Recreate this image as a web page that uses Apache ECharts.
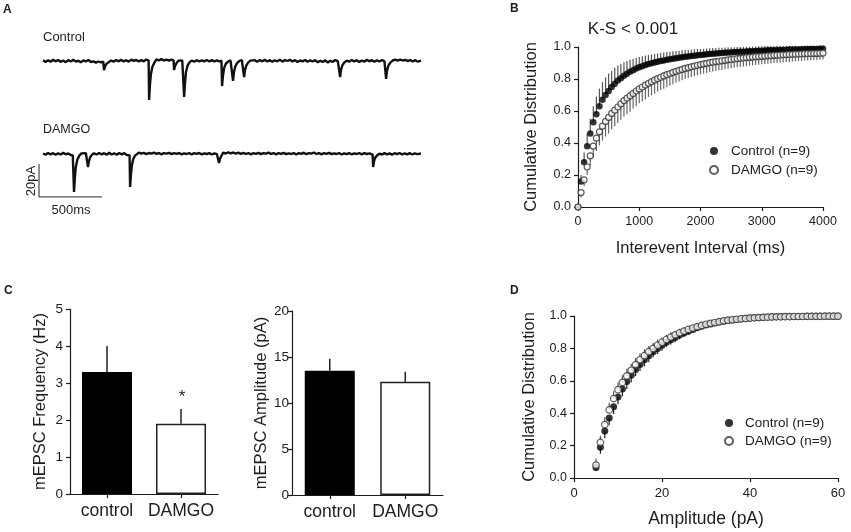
<!DOCTYPE html>
<html>
<head>
<meta charset="utf-8">
<script src="https://cdn.jsdelivr.net/npm/echarts@6/dist/echarts.min.js"></script>
<style>
  html, body { margin: 0; padding: 0; background: #fff; }
  #main { width: 851px; height: 532px; }
</style>
</head>
<body>
<div id="main"></div>
<script>
// ---- panel A: example traces, [ms, pA] ----
var controlTrace = [[0,0.4],[20,-0.6],[40,0.5],[60,-0.4],[80,0.7],[100,-0.2],[120,0.6],[140,-0.5],[160,0.3],[180,-0.7],[200,0.5],[220,-0.3],[240,0.8],[260,-0.4],[280,0.2],[300,-0.8],[320,0.4],[340,-0.3],[360,0.6],[380,-0.6],[400,-0.2],[420,-1.0],[440,-0.3],[460,-0.9],[478,-0.4],
  [484,-5.5],[492,-3.2],[505,-1.6],[520,-0.6],[540,0.3],[560,-0.4],[580,0.6],[600,-0.2],[620,0.7],[640,-0.3],[660,0.5],[680,-0.4],[700,0.8],[720,0.1],[740,0.6],[760,-0.3],[780,0.5],[800,-0.2],[820,0.9],[838,0.3],
  [842,-23.6],[848,-15],[856,-8],[868,-3.5],[884,-1],[900,1.0],[920,0.4],[940,1.1],[960,0.3],[980,0.8],[1000,0.2],[1020,0.9],[1036,0.4],
  [1040,-5.5],[1048,-3],[1060,-1.2],[1075,0.2],[1090,0.8],[1105,0.3],[1116,0.6],
  [1120,-21.8],[1126,-14],[1134,-7],[1146,-3],[1162,-0.8],[1180,0.3],[1200,-0.4],[1220,0.5],[1240,-0.3],[1260,0.4],[1280,-0.2],[1300,0.6],[1320,-0.3],[1340,0.5],[1360,-0.2],[1380,0.4],[1400,-0.3],[1416,0.3],
  [1421,-15.2],[1428,-9],[1438,-4],[1452,-1.5],[1470,-0.3],[1488,0.4],[1502,0.2],
  [1508,-12.1],[1515,-7],[1525,-3.5],[1540,-1.2],[1560,0.1],[1578,0.5],[1592,0.2],
  [1596,-9.7],[1603,-5.5],[1613,-2.8],[1628,-1],[1645,0.2],[1660,-0.3],[1680,0.5],[1700,-0.4],[1720,0.6],[1740,-0.2],[1760,0.7],[1780,-0.3],[1800,0.5],[1820,-0.5],[1840,0.4],[1860,-0.2],[1880,0.8],[1900,-0.4],[1920,0.6],[1940,0.0],[1960,0.7],[1980,-0.3],[2000,0.5],[2020,-0.6],[2040,0.3],[2060,-0.2],[2080,0.6],[2100,-0.5],[2120,0.4],[2140,-0.3],[2160,0.5],[2180,-0.8],[2200,0.2],[2220,-0.6],[2240,0.4],[2260,-0.9],[2280,0.1],[2300,-0.5],[2320,0.6],[2340,-0.2],[2354,0.3],
  [2358,-9.7],[2365,-5.5],[2375,-2.8],[2390,-1],[2410,0.2],[2430,-0.4],[2450,0.6],[2470,-0.3],[2490,0.5],[2510,-0.6],[2530,0.3],[2550,-0.4],[2570,0.7],[2590,-0.2],[2610,0.5],[2630,-0.5],[2650,0.4],[2670,-0.3],[2690,0.6],[2710,-0.2],[2719,0.4],
  [2723,-10.9],[2730,-6],[2740,-3],[2755,-1.2],[2775,0.3],[2795,0.8],[2815,0.2],[2835,0.9],[2855,0.3],[2875,0.7],[2895,-0.1],[2915,0.6],[2935,-0.3],[2955,0.5],[2975,-0.4],[3000,0.2]];

var damgoTrace = [[0,0.3],[20,-0.4],[40,0.6],[60,-0.2],[80,0.5],[100,-0.5],[120,0.4],[140,-0.3],[160,0.7],[180,-0.2],[200,0.3],[220,-0.6],[236,-0.8],[242,-0.5],
  [246,-23],[252,-15],[260,-8],[272,-3.5],[288,-1],[305,0.4],[320,-0.3],[340,0.5],[353,0.1],
  [357,-7.9],[364,-4.5],[374,-2],[388,-0.5],[405,0.4],[425,-0.3],[445,0.6],[465,-0.2],[485,0.5],[505,-0.4],[525,0.7],[545,-0.3],[565,0.4],[585,-0.5],[605,0.6],[625,-0.2],[645,0.5],[665,-0.6],[680,-1.2],[687,-0.8],
  [691,-20],[697,-13],[705,-7],[716,-3],[730,-1],[745,0.2],[760,0.8],[780,0.3],[800,0.7],[820,-0.1],[840,0.6],[860,0.2],[880,0.8],[900,0.1],[920,0.6],[940,-0.2],[960,0.5],[980,0.2],[1000,0.7],[1020,-0.1],[1040,0.5],[1060,0.1],[1080,0.6],[1100,-0.2],[1120,0.4],[1140,0.0],[1160,0.6],[1180,-0.3],[1200,0.5],[1220,0.1],[1240,0.6],[1260,-0.2],[1280,0.4],[1300,0.0],[1320,0.5],[1340,-0.3],[1360,0.4],[1380,-0.1],[1393,0.2],
  [1397,-5.5],[1404,-3],[1415,-1.2],[1430,0.8],[1450,0.3],[1470,1.0],[1490,0.4],[1510,0.9],[1530,0.2],[1550,0.8],[1570,0.1],[1590,0.7],[1610,0.0],[1630,0.6],[1650,-0.2],[1670,0.5],[1690,0.1],[1710,0.7],[1730,-0.1],[1750,0.5],[1770,0.2],[1790,0.8],[1810,0.0],[1830,0.6],[1850,-0.2],[1870,0.5],[1890,0.1],[1910,0.7],[1930,-0.1],[1950,0.4],[1970,0.0],[1990,0.6],[2010,-0.3],[2030,0.5],[2050,0.1],[2070,0.8],[2090,-0.1],[2110,0.5],[2130,0.2],[2150,0.9],[2170,0.0],[2190,0.6],[2210,-0.2],[2230,0.5],[2250,0.1],[2270,0.7],[2290,-0.1],[2310,0.4],[2330,0.0],[2350,0.6],[2370,-0.3],[2390,0.4],[2410,-0.1],[2430,0.5],[2450,-0.2],[2470,0.4],[2490,0.0],[2510,0.6],[2530,-0.2],[2550,0.5],[2570,0.0],[2590,0.4],[2605,-0.6],[2616,-0.4],
  [2620,-7.9],[2627,-4.5],[2637,-2.2],[2652,-0.8],[2670,0.2],[2690,-0.3],[2710,0.5],[2730,-0.2],[2750,0.4],[2770,-0.4],[2790,0.5],[2810,-0.1],[2830,0.6],[2850,-0.3],[2870,0.4],[2890,-0.2],[2910,0.5],[2930,-0.3],[2950,0.4],[2970,-0.1],[3000,0.3]];

// scale bar: 20 pA by 500 ms
var scaleBar = [[-32,-6],[-32,-26],[468,-26]];

// ---- panel B: cumulative interevent interval ----
var intervalMs = [0,50,100,150,200,250,300,350,400,450,500,550,600,650,700,750,800,850,900,950,
  1000,1050,1100,1150,1200,1250,1300,1350,1400,1450,1500,1550,1600,1650,1700,1750,1800,1850,1900,1950,
  2000,2050,2100,2150,2200,2250,2300,2350,2400,2450,2500,2550,2600,2650,2700,2750,2800,2850,2900,2950,
  3000,3050,3100,3150,3200,3250,3300,3350,3400,3450,3500,3550,3600,3650,3700,3750,3800,3850,3900,3950,4000];
var ctrlIei = [0,0.16,0.28,0.38,0.46,0.53,0.58,0.63,0.67,0.70,0.725,0.75,0.77,0.79,0.805,0.82,0.833,0.845,0.855,0.865,
  0.873,0.88,0.887,0.893,0.898,0.903,0.908,0.912,0.916,0.92,0.924,0.927,0.93,0.933,0.936,0.939,0.941,0.944,0.946,0.948,
  0.95,0.952,0.954,0.956,0.958,0.959,0.961,0.962,0.964,0.965,0.966,0.968,0.969,0.97,0.971,0.972,0.973,0.974,0.975,0.976,
  0.977,0.978,0.979,0.98,0.98,0.981,0.982,0.982,0.983,0.984,0.984,0.985,0.985,0.986,0.986,0.987,0.987,0.988,0.988,0.989,0.989];
var ctrlIeiErr = [0,0.04,0.06,0.08,0.09,0.10,0.11,0.11,0.11,0.11,0.11,0.10,0.10,0.095,0.09,0.085,0.08,0.075,0.07,0.067,
  0.064,0.062,0.06,0.058,0.056,0.054,0.052,0.05,0.049,0.048,0.047,0.046,0.045,0.044,0.043,0.042,0.041,0.04,0.04,0.039,
  0.038,0.037,0.036,0.036,0.035,0.034,0.034,0.033,0.033,0.032,0.032,0.031,0.031,0.03,0.03,0.03,0.029,0.029,0.028,0.028,
  0.028,0.027,0.027,0.026,0.026,0.025,0.025,0.025,0.024,0.024,0.023,0.023,0.022,0.022,0.022,0.021,0.021,0.02,0.02,0.02,0.02];
var damgoIei = [0,0.09,0.17,0.25,0.32,0.38,0.43,0.47,0.505,0.535,0.56,0.585,0.605,0.625,0.645,0.665,0.68,0.695,0.71,0.725,
  0.738,0.75,0.762,0.773,0.783,0.793,0.802,0.811,0.819,0.827,0.834,0.841,0.848,0.854,0.86,0.866,0.871,0.876,0.881,0.886,
  0.89,0.894,0.898,0.902,0.905,0.908,0.911,0.914,0.917,0.92,0.922,0.925,0.927,0.929,0.931,0.933,0.935,0.937,0.939,0.94,
  0.942,0.943,0.945,0.946,0.948,0.949,0.95,0.951,0.952,0.953,0.954,0.955,0.956,0.957,0.958,0.958,0.959,0.96,0.96,0.961,0.962];
var damgoIeiErr = [0,0.03,0.04,0.05,0.06,0.07,0.08,0.085,0.09,0.095,0.10,0.10,0.10,0.10,0.10,0.10,0.10,0.10,0.095,0.095,
  0.09,0.09,0.09,0.085,0.085,0.085,0.08,0.08,0.08,0.078,0.076,0.074,0.072,0.07,0.068,0.066,0.065,0.064,0.063,0.062,
  0.061,0.06,0.06,0.059,0.058,0.058,0.057,0.057,0.056,0.056,0.055,0.055,0.054,0.054,0.053,0.053,0.052,0.052,0.051,0.051,
  0.05,0.05,0.049,0.049,0.048,0.048,0.047,0.047,0.046,0.046,0.045,0.045,0.044,0.044,0.043,0.043,0.042,0.042,0.041,0.041,0.04];

// ---- panel C: means and SEM ----
var groups = ['control', 'DAMGO'];
var freqMean = [3.3, 1.9];
var freqSem = [0.7, 0.4];
var ampMean = [13.5, 12.3];
var ampSem = [1.3, 1.1];

// ---- panel D: cumulative amplitude ----
var amplitudePa = [5,6,7,8,9,10,11,12,13,14,15,16,17,18,19,20,21,22,23,24,25,26,27,28,29,30,31,32,33,34,35,36,37,38,39,40,
  41,42,43,44,45,46,47,48,49,50,51,52,53,54,55,56,57,58,59,60];
var ctrlAmp = [0.065,0.19,0.29,0.37,0.44,0.50,0.55,0.595,0.635,0.67,0.70,0.73,0.755,0.78,0.80,0.82,0.838,0.854,0.868,0.882,
  0.895,0.906,0.917,0.927,0.936,0.944,0.951,0.957,0.963,0.968,0.972,0.976,0.979,0.982,0.985,0.987,0.989,0.99,0.992,0.993,
  0.994,0.995,0.995,0.996,0.996,0.997,0.997,0.997,0.998,0.998,0.998,0.998,0.999,0.999,0.999,0.999];
var ctrlAmpErr = [0.02,0.04,0.045,0.045,0.045,0.045,0.045,0.045,0.045,0.04,0.04,0.04,0.04,0.035,0.035,0.035,0.03,0.03,0.03,0.025,
  0.025,0.022,0.02,0.02,0.018,0.016,0.015,0.014,0.013,0.012,0.011,0.01,0.01,0.009,0.008,0.008,0.007,0.007,0.006,0.006,
  0.005,0.005,0.005,0.004,0.004,0.004,0.004,0.003,0.003,0.003,0.003,0.003,0.002,0.002,0.002,0.002];
var damgoAmp = [0.08,0.22,0.33,0.42,0.49,0.545,0.59,0.63,0.665,0.70,0.73,0.755,0.78,0.80,0.82,0.838,0.855,0.87,0.884,0.896,
  0.907,0.917,0.926,0.934,0.942,0.949,0.955,0.96,0.965,0.97,0.974,0.977,0.98,0.983,0.985,0.987,0.989,0.99,0.992,0.993,
  0.994,0.995,0.995,0.996,0.996,0.997,0.997,0.997,0.998,0.998,0.998,0.998,0.999,0.999,0.999,0.999];
var damgoAmpErr = [0.04,0.04,0.045,0.045,0.045,0.045,0.045,0.045,0.04,0.04,0.04,0.04,0.035,0.035,0.035,0.03,0.03,0.03,0.025,0.025,
  0.022,0.02,0.02,0.018,0.016,0.015,0.014,0.013,0.012,0.011,0.01,0.01,0.009,0.008,0.008,0.007,0.007,0.006,0.006,0.005,
  0.005,0.005,0.004,0.004,0.004,0.004,0.003,0.003,0.003,0.003,0.003,0.002,0.002,0.002,0.002,0.002];

var FONT = 'Liberation Sans, Arial, sans-serif';
var INK = '#1c1c24';

var chart = echarts.init(document.getElementById('main'));

function pairs(xs, ys) {
  return ys.map(function (v, i) { return [xs[i], v]; });
}
function errData(xs, ys, errs, sign) {
  return ys.map(function (v, i) { return [xs[i], v, sign * errs[i]]; });
}
// vertical error bar, one-sided, no cap
function errorBars(xi, yi, data, color, width, z) {
  return {
    type: 'custom', xAxisIndex: xi, yAxisIndex: yi, z: z || 1, clip: false,
    renderItem: function (params, api) {
      var p0 = api.coord([api.value(0), api.value(1)]);
      var p1 = api.coord([api.value(0), api.value(1) + api.value(2)]);
      return { type: 'line', shape: { x1: p0[0], y1: p0[1], x2: p1[0], y2: p1[1] },
        style: { stroke: color, lineWidth: width } };
    },
    data: data
  };
}
function axisBase(extra) {
  var a = {
    axisLine: { show: true, lineStyle: { color: INK, width: 1.2 } },
    axisTick: { show: true, length: 4, lineStyle: { color: INK, width: 1.2 } },
    axisLabel: { color: INK, fontSize: 12.5, fontFamily: FONT, margin: 7 },
    splitLine: { show: false },
    nameLocation: 'middle',
    nameTextStyle: { color: INK, fontSize: 16.5, fontFamily: FONT }
  };
  for (var k in extra) a[k] = extra[k];
  return a;
}
function text(x, y, str, size, opts) {
  opts = opts || {};
  return {
    type: 'text', x: x, y: y, rotation: opts.rotation || 0,
    style: { text: str, fill: INK, fontSize: size, fontFamily: FONT,
      fontWeight: opts.bold ? 'bold' : 'normal',
      align: opts.align || 'left', verticalAlign: 'middle' }
  };
}
function plain(v) { return String(v); }
function oneDecimal(v) { return v.toFixed(1); }

chart.setOption({
  backgroundColor: '#fff',
  animation: false,
  grid: [
    { left: 38, top: 52.75, width: 383, height: 57.75 },   // A control
    { left: 38, top: 145.75, width: 383, height: 57.75 },  // A DAMGO
    { left: 578, top: 47, width: 245, height: 160 },       // B
    { left: 70, top: 309, width: 148, height: 185 },       // C left
    { left: 292, top: 311, width: 151, height: 184 },      // C right
    { left: 574, top: 316, width: 264, height: 162 }       // D
  ],
  xAxis: [
    { gridIndex: 0, type: 'value', min: -40, max: 3000, show: false },
    { gridIndex: 1, type: 'value', min: -40, max: 3000, show: false },
    axisBase({ gridIndex: 2, type: 'value', min: 0, max: 4000, interval: 1000,
      name: 'Interevent Interval (ms)', nameGap: 33,
      axisLabel: { color: INK, fontSize: 12.5, fontFamily: FONT, margin: 8, formatter: plain } }),
    axisBase({ gridIndex: 3, type: 'category', data: groups,
      axisTick: { show: true, alignWithLabel: true, length: 4, lineStyle: { color: INK, width: 1.2 } },
      axisLabel: { color: INK, fontSize: 17.5, fontFamily: FONT, margin: 8, interval: 0 } }),
    axisBase({ gridIndex: 4, type: 'category', data: groups,
      axisTick: { show: true, alignWithLabel: true, length: 4, lineStyle: { color: INK, width: 1.2 } },
      axisLabel: { color: INK, fontSize: 17.5, fontFamily: FONT, margin: 8, interval: 0 } }),
    axisBase({ gridIndex: 5, type: 'value', min: 0, max: 60, interval: 20,
      name: 'Amplitude (pA)', nameGap: 32,
      axisLabel: { color: INK, fontSize: 13, fontFamily: FONT, margin: 9, formatter: plain },
      nameTextStyle: { color: INK, fontSize: 17.5, fontFamily: FONT } })
  ],
  yAxis: [
    { gridIndex: 0, type: 'value', min: -30, max: 5, show: false },
    { gridIndex: 1, type: 'value', min: -30, max: 5, show: false },
    axisBase({ gridIndex: 2, type: 'value', min: 0, max: 1, interval: 0.2,
      name: 'Cumulative Distribution', nameGap: 38,
      axisLabel: { color: INK, fontSize: 12.5, fontFamily: FONT, margin: 7, formatter: oneDecimal } }),
    axisBase({ gridIndex: 3, type: 'value', min: 0, max: 5, interval: 1,
      name: 'mEPSC Frequency (Hz)', nameGap: 21,
      axisLabel: { color: INK, fontSize: 13.5, fontFamily: FONT, margin: 7 } }),
    axisBase({ gridIndex: 4, type: 'value', min: 0, max: 20, interval: 5,
      name: 'mEPSC Amplitude (pA)', nameGap: 19,
      axisLabel: { color: INK, fontSize: 13.5, fontFamily: FONT, margin: 3 } }),
    axisBase({ gridIndex: 5, type: 'value', min: 0, max: 1, interval: 0.2,
      name: 'Cumulative Distribution', nameGap: 36,
      axisLabel: { color: INK, fontSize: 12.5, fontFamily: FONT, margin: 7, formatter: oneDecimal } })
  ],
  legend: [
    { left: 704, top: 139, orient: 'vertical', itemWidth: 8, itemHeight: 8, itemGap: 5,
      textStyle: { color: INK, fontSize: 13.5, fontFamily: FONT, padding: [0, 0, 0, 8] },
      data: [{ name: 'Control (n=9)', icon: 'circle' }, { name: 'DAMGO (n=9)', icon: 'circle' }] },
    { left: 719, top: 411, orient: 'vertical', itemWidth: 8, itemHeight: 8, itemGap: 4,
      textStyle: { color: INK, fontSize: 13.5, fontFamily: FONT, padding: [0, 0, 0, 7] },
      data: [{ name: 'Control (n=9)', icon: 'circle' }, { name: 'DAMGO (n=9)', icon: 'circle' }] }
  ],
  graphic: [
    text(3, 10, 'A', 12, { bold: true }),
    text(510, 9, 'B', 12, { bold: true }),
    text(4, 291, 'C', 12, { bold: true }),
    text(510, 291, 'D', 12, { bold: true }),
    text(43, 37, 'Control', 13),
    text(43, 130, 'DAMGO', 12.5),
    text(71, 210, '500ms', 13, { align: 'center' }),
    text(31, 181, '20pA', 13, { align: 'center', rotation: Math.PI / 2 }),
    text(633, 29, 'K-S < 0.001', 17, { align: 'center' }),
    text(182, 397, '*', 17, { align: 'center' })
  ],
  series: [
    // A
    { type: 'line', xAxisIndex: 0, yAxisIndex: 0, data: controlTrace, showSymbol: false,
      lineStyle: { color: '#111', width: 2.4 } },
    { type: 'line', xAxisIndex: 1, yAxisIndex: 1, data: damgoTrace, showSymbol: false,
      lineStyle: { color: '#111', width: 2.4 } },
    { type: 'line', xAxisIndex: 1, yAxisIndex: 1, data: scaleBar, showSymbol: false, clip: false,
      lineStyle: { color: '#555', width: 1.3 } },
    // B
    errorBars(2, 2, errData(intervalMs, ctrlIei, ctrlIeiErr, 1), '#555', 1.2, 1),
    errorBars(2, 2, errData(intervalMs, damgoIei, damgoIeiErr, -1), '#666', 1.2, 1),
    { name: 'Control (n=9)', type: 'scatter', xAxisIndex: 2, yAxisIndex: 2, z: 3, clip: false,
      symbol: 'circle', symbolSize: 6.5, itemStyle: { color: '#000' },
      data: pairs(intervalMs, ctrlIei) },
    { name: 'DAMGO (n=9)', type: 'scatter', xAxisIndex: 2, yAxisIndex: 2, z: 4, clip: false,
      symbol: 'circle', symbolSize: 6, itemStyle: { color: '#fff', borderColor: '#333', borderWidth: 1.2 },
      data: pairs(intervalMs, damgoIei) },
    // C
    { type: 'bar', xAxisIndex: 3, yAxisIndex: 3, barWidth: 50, z: 2,
      data: [
        { value: freqMean[0], itemStyle: { color: '#000', borderColor: '#000', borderWidth: 1.2 } },
        { value: freqMean[1], itemStyle: { color: '#fff', borderColor: '#222', borderWidth: 1.5 } }
      ] },
    errorBars(3, 3, errData([0, 1], freqMean, freqSem, 1), '#222', 1.5, 1),
    { type: 'bar', xAxisIndex: 4, yAxisIndex: 4, barWidth: 50, z: 2,
      data: [
        { value: ampMean[0], itemStyle: { color: '#000', borderColor: '#000', borderWidth: 1.2 } },
        { value: ampMean[1], itemStyle: { color: '#fff', borderColor: '#222', borderWidth: 1.5 } }
      ] },
    errorBars(4, 4, errData([0, 1], ampMean, ampSem, 1), '#222', 1.5, 1),
    // D
    errorBars(5, 5, errData(amplitudePa, ctrlAmp, ctrlAmpErr, -1), '#222', 1.2, 1),
    errorBars(5, 5, errData(amplitudePa, damgoAmp, damgoAmpErr, 1), '#555', 1.2, 1),
    { name: 'Control (n=9)', type: 'scatter', xAxisIndex: 5, yAxisIndex: 5, z: 3, clip: false,
      symbol: 'circle', symbolSize: 7, itemStyle: { color: '#000' },
      data: pairs(amplitudePa, ctrlAmp) },
    { name: 'DAMGO (n=9)', type: 'scatter', xAxisIndex: 5, yAxisIndex: 5, z: 4, clip: false,
      symbol: 'circle', symbolSize: 6.5, itemStyle: { color: '#fff', borderColor: '#333', borderWidth: 1.2 },
      data: pairs(amplitudePa, damgoAmp) }
  ]
});

window.addEventListener('resize', function () { chart.resize(); });
</script>
</body>
</html>
